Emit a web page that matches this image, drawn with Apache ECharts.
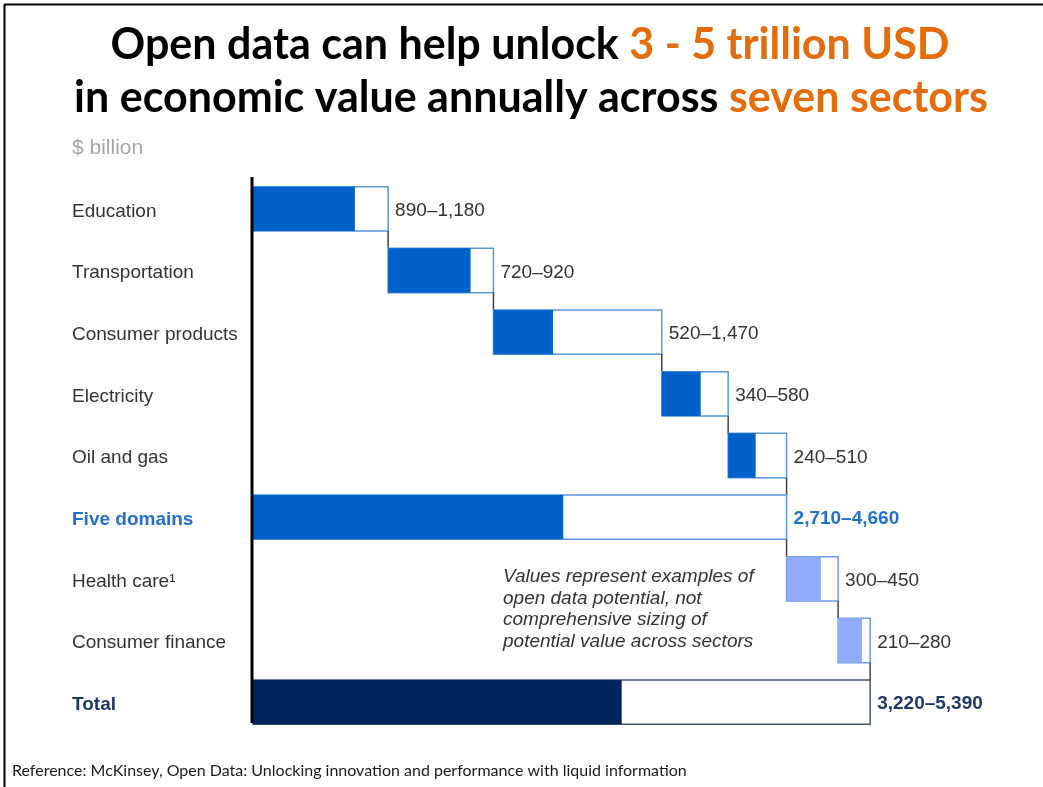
<!DOCTYPE html>
<html>
<head>
<meta charset="utf-8">
<script src="https://cdn.jsdelivr.net/npm/echarts@6/dist/echarts.min.js"></script>
<style>html,body{margin:0;padding:0;background:#fff;}#c{width:1043px;height:787px;}</style>
</head>
<body>
<div id="c"></div>
<script>
var categories = ['Education','Transportation','Consumer products','Electricity','Oil and gas','Five domains','Health care\u00b9','Consumer finance','Total'];
var startValues = [0, 1180, 2100, 3570, 4150, 0, 4660, 5110, 0];
var lowValues = [890, 720, 520, 340, 240, 2710, 300, 210, 3220];
var highValues = [1180, 920, 1470, 580, 510, 4660, 450, 280, 5390];
var rangeLabels = ['890\u20131,180','720\u2013920','520\u20131,470','340\u2013580','240\u2013510','2,710\u20134,660','300\u2013450','210\u2013280','3,220\u20135,390'];

var FONT = '"Liberation Sans", Arial, sans-serif';
var fillColors = ['#0061C9','#0061C9','#0061C9','#0061C9','#0061C9','#0061C9','#8FABF9','#8FABF9','#00255A'];
var strokeColors = ['#5A97DE','#5A97DE','#5A97DE','#5A97DE','#5A97DE','#5A97DE','#6E9BEA','#6E9BEA','#44546A'];
var labelStyles = [null,null,null,null,null,{c:'#2170D0',w:'bold'},null,null,{c:'#1F3864',w:'bold'}];

var data = categories.map(function(c, i){ return [i, startValues[i], lowValues[i], highValues[i]]; });

var chart = echarts.init(document.getElementById('c'), null, {renderer:'canvas'});
chart.setOption({
  animation: false,
  backgroundColor: '#fff',
  grid: {left: 253, right: 103, top: 178, bottom: 54},
  xAxis: {type: 'value', min: 0, max: 6000, show: false},
  yAxis: {
    type: 'category', data: categories, inverse: true,
    axisLine: {show: false},
    axisTick: {show: false},
    splitLine: {show: false},
    axisLabel: {
      margin: 181, align: 'left', fontSize: 19, color: '#333', fontFamily: FONT, padding: [5, 0, 0, 0],
      formatter: function(v, i){ if (i === 5) return '{b|' + v + '}'; if (i === 8) return '{t|' + v + '}'; return v; },
      rich: {
        b: {fontSize: 19, fontWeight: 'bold', color: '#2170D0', fontFamily: FONT},
        t: {fontSize: 19, fontWeight: 'bold', color: '#1F3864', fontFamily: FONT}
      }
    }
  },
  series: [{
    type: 'custom',
    data: data,
    encode: {x: [1,2,3], y: 0},
    renderItem: function(params, api){
      var idx = api.value(0), s = api.value(1), lo = api.value(2), hi = api.value(3);
      var p0 = api.coord([s, idx]);
      var pl = api.coord([s + lo, idx]);
      var ph = api.coord([s + hi, idx]);
      var band = api.size([0, 1])[1];
      var h = band * 0.72;
      var top = p0[1] - h / 2;
      var ls = labelStyles[idx];
      var children = [
        {type: 'rect', shape: {x: p0[0], y: top, width: ph[0] - p0[0], height: h}, style: {fill: '#fff', stroke: strokeColors[idx], lineWidth: 1.5}},
        {type: 'rect', shape: {x: p0[0], y: top, width: pl[0] - p0[0], height: h}, style: {fill: fillColors[idx]}},
        {type: 'text', style: {text: rangeLabels[idx], x: ph[0] + 7, y: p0[1] + 2, textAlign: 'left', textVerticalAlign: 'middle',
          font: (ls ? 'bold ' : '') + '19px ' + FONT, fill: ls ? ls.c : '#333'}}
      ];
      if (idx < categories.length - 1) {
        children.push({type: 'line', shape: {x1: ph[0], y1: top + h, x2: ph[0], y2: top + band}, style: {stroke: '#404040', lineWidth: 1.5}});
      }
      return {type: 'group', children: children};
    }
  }],
  graphic: [
    {type: 'line', shape: {x1: 4.5, y1: 4, x2: 4.5, y2: 787}, style: {stroke: '#000', lineWidth: 2}},
    {type: 'line', shape: {x1: 4, y1: 4.5, x2: 1043, y2: 4.5}, style: {stroke: '#000', lineWidth: 2}},
    {type: 'line', z: 10, shape: {x1: 252, y1: 177, x2: 252, y2: 723}, style: {stroke: '#000', lineWidth: 3}},
    {type: 'text', x: 530, y: 45, style: {
      text: '{a|Open data can help unlock }{o|3 - 5 trillion USD}', textAlign: 'center', textVerticalAlign: 'middle',
      rich: {a: {font: 'bold 43px Lato, sans-serif', fill: '#000'}, o: {font: 'bold 43px Lato, sans-serif', fill: '#E46C0A'}}}},
    {type: 'text', x: 531, y: 98, style: {
      text: '{a|in economic value annually across }{o|seven sectors}', textAlign: 'center', textVerticalAlign: 'middle',
      rich: {a: {font: 'bold 43px Lato, sans-serif', fill: '#000'}, o: {font: 'bold 43px Lato, sans-serif', fill: '#E46C0A'}}}},
    {type: 'text', x: 72, y: 148, style: {text: '$ billion', font: '21px ' + FONT, fill: '#A6A6A6', textVerticalAlign: 'middle'}},
    {type: 'text', x: 503, y: 566, style: {
      text: 'Values represent examples of\nopen data potential, not\ncomprehensive sizing of\npotential value across sectors',
      font: 'italic 19px ' + FONT, fill: '#333', lineHeight: 21.5, textVerticalAlign: 'top'}},
    {type: 'text', x: 12, y: 771, style: {
      text: 'Reference: McKinsey, Open Data: Unlocking innovation and performance with liquid information',
      font: '16px Lato, sans-serif', fill: '#1a1a1a', textVerticalAlign: 'middle'}}
  ]
});
</script>
</body>
</html>
